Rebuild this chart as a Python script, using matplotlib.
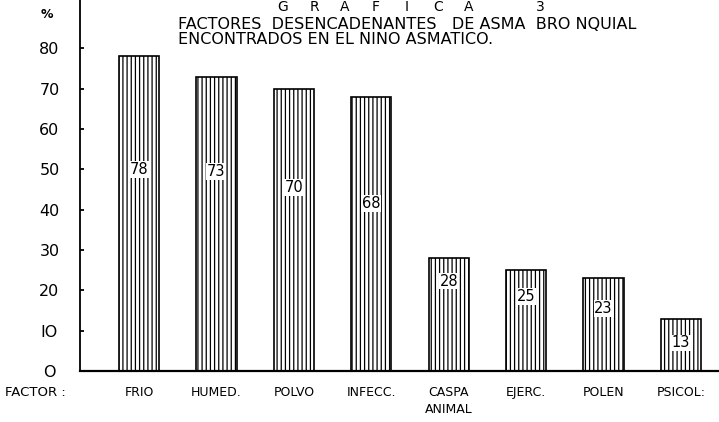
import matplotlib
matplotlib.use("Agg")
import matplotlib.pyplot as plt

# ---- data ----
categories = ["FRIO", "HUMED.", "POLVO", "INFECC.", "CASPA\nANIMAL", "EJERC.", "POLEN", "PSICOL:"]
values = [78, 73, 70, 68, 28, 25, 23, 13]
value_labels = ["78", "73", "70", "68", "28", "25", "23", "13"]
yticks = [0, 10, 20, 30, 40, 50, 60, 70, 80]
ytick_labels = ["O", "IO", "20", "30", "40", "50", "60", "70", "80"]
title_letters = ["G", "R", "A", "F", "I", "C", "A", "3"]
subtitle_1 = "FACTORES  DESENCADENANTES   DE ASMA  BRO NQUIAL"
subtitle_2 = "ENCONTRADOS EN EL NINO ASMATICO."

# ---- layout (label heights inside bars, in data units) ----
label_heights = [50, 49.5, 45.5, 41.5, 22.3, 18.5, 15.5, 7]

W, H = 719, 422
fig = plt.figure(figsize=(W / 100, H / 100), dpi=100)
fig.patch.set_facecolor("white")
plt.rcParams["hatch.linewidth"] = 0.9
font = "DejaVu Sans"

ax_left, ax_bottom = 80, 371
ax = fig.add_axes([ax_left / W, (H - ax_bottom) / H, (W - ax_left) / W, ax_bottom / H])
ax.set_facecolor("white")

x = list(range(len(values)))
ax.bar(x, values, width=0.52, facecolor="white", edgecolor="black",
       linewidth=1.2, hatch="||||", zorder=2)

for xi, lab, hy in zip(x, value_labels, label_heights):
    ax.text(xi, hy, lab, ha="center", va="center", fontsize=10.5, family=font,
            color="black", zorder=4,
            bbox=dict(facecolor="white", edgecolor="none", pad=0.5))

ax.set_xlim(-0.762, 7.49)
ax.set_ylim(0, 92)

for s in ["top", "right"]:
    ax.spines[s].set_visible(False)
ax.spines["left"].set_linewidth(1.3)
ax.spines["bottom"].set_linewidth(1.6)

ax.set_yticks(yticks)
ax.set_yticklabels(ytick_labels, fontsize=11.5, family=font)
ax.tick_params(axis="y", direction="in", length=3, width=1.3, pad=22)
for t in ax.get_yticklabels():
    t.set_horizontalalignment("center")

ax.set_xticks(x)
ax.set_xticklabels(categories, fontsize=9, family=font, linespacing=1.4, va="top")
ax.tick_params(axis="x", length=0, pad=11)

# percent sign above y-axis labels
fig.text(47 / W, 1 - 15 / H, "%", ha="center", va="center", fontsize=9, family=font,
         fontweight="bold")
# FACTOR label
fig.text(5 / W, 1 - 393 / H, "FACTOR :", ha="left", va="center", fontsize=9.5, family=font)

# spaced title
for i, ch in enumerate(title_letters[:-1]):
    fig.text((283 + 31 * i) / W, 1 - 7 / H, ch, ha="center", va="center",
             fontsize=10, family=font)
fig.text(540 / W, 1 - 7 / H, title_letters[-1], ha="center", va="center",
         fontsize=10, family=font)

fig.text(178 / W, 1 - 24.5 / H, subtitle_1, ha="left", va="center", fontsize=11.5, family=font)
fig.text(178 / W, 1 - 40 / H, subtitle_2, ha="left", va="center", fontsize=11.5, family=font)

fig.savefig("out.png", dpi=100, facecolor="white")
